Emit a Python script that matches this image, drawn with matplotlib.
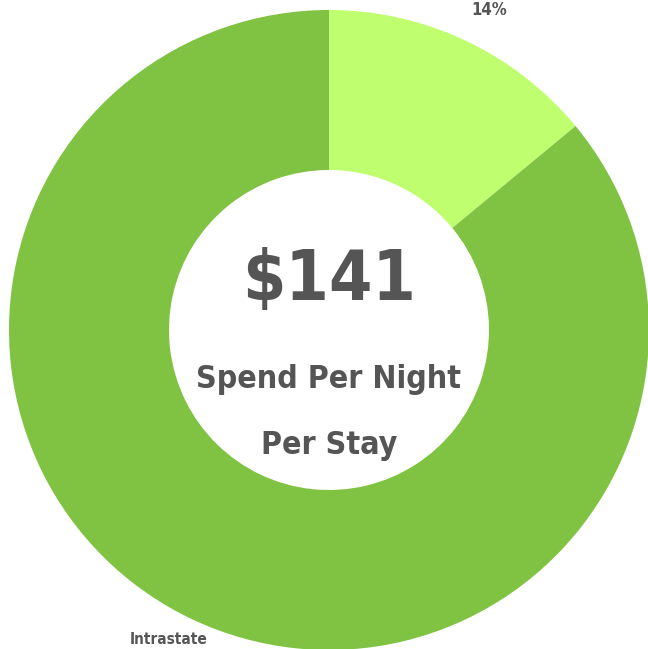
import matplotlib.pyplot as plt

# donut data
labels = ["Interstate", "Intrastate"]
shares = [14, 86]
colors = ["#bfff6f", "#80c343"]
center_value = "$141"
caption_lines = ["Spend Per Night", "Per Stay"]

grey = "#555555"
fam = ["DejaVu Sans"]

fig = plt.figure(figsize=(6.48, 6.49), dpi=100)
ax = fig.add_axes([0, 0, 1, 1])

wedges, _ = ax.pie(shares, colors=colors, startangle=90, counterclock=False,
                   radius=1.0, wedgeprops=dict(width=0.5, linewidth=0))

# crop like the original (pie fills nearly the whole picture)
ax.set_xlim(-329 / 320, (648 - 329) / 320)
ax.set_ylim(-(649 - 330) / 320, 330 / 320)
ax.set_aspect("auto")
ax.axis("off")

ax.text(0, 0.155, center_value, ha="center", va="center", fontsize=50,
        fontweight="bold", color=grey, family=fam, fontstretch="condensed")
ax.text(0, -0.155, caption_lines[0], ha="center", va="center", fontsize=23,
        fontweight="bold", color=grey, family=fam, fontstretch="condensed")
ax.text(0, -0.36, caption_lines[1], ha="center", va="center", fontsize=23,
        fontweight="bold", color=grey, family=fam, fontstretch="condensed")

# outside labels near the picture edge
ax.text(0.5, 1.0, f"{shares[0]}%", ha="center", va="center", fontsize=12,
        fontweight="bold", color=grey, family=fam, fontstretch="condensed")
ax.text(-0.5, -0.99, labels[1], ha="center", va="bottom", fontsize=11,
        fontweight="bold", color=grey, family=fam, fontstretch="condensed")

fig.savefig("out.png", dpi=100)
